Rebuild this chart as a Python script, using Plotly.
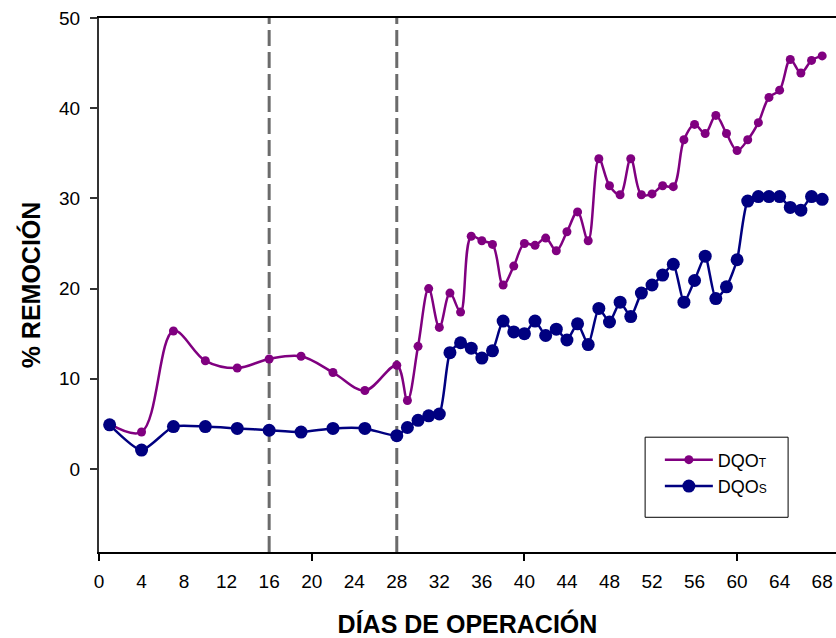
import plotly.graph_objects as go

# Days of operation
days = [1, 4, 7, 10, 13, 16, 19, 22, 25, 28,
        29, 30, 31, 32, 33, 34, 35, 36, 37, 38, 39, 40, 41, 42, 43, 44, 45, 46, 47, 48,
        49, 50, 51, 52, 53, 54, 55, 56, 57, 58, 59, 60, 61, 62, 63, 64, 65, 66, 67, 68]

# % removal DQO total
dqo_t = [5.0, 4.1, 15.3, 12.0, 11.2, 12.2, 12.5, 10.7, 8.7, 11.5,
         7.6, 13.6, 20.0, 15.7, 19.5, 17.4, 25.8, 25.3, 24.9, 20.4, 22.5, 25.0, 24.8, 25.6, 24.2, 26.3, 28.5, 25.3, 34.4, 31.4,
         30.4, 34.4, 30.4, 30.5, 31.4, 31.3, 36.5, 38.2, 37.2, 39.2, 37.2, 35.3, 36.5, 38.4, 41.2, 42.0, 45.4, 43.9, 45.3, 45.8]

# % removal DQO soluble
dqo_s = [4.9, 2.1, 4.7, 4.7, 4.5, 4.3, 4.1, 4.5, 4.5, 3.7,
         4.6, 5.4, 5.9, 6.1, 12.9, 14.0, 13.4, 12.3, 13.1, 16.4, 15.2, 15.0, 16.4, 14.8, 15.5, 14.3, 16.1, 13.8, 17.8, 16.3,
         18.5, 16.9, 19.5, 20.4, 21.5, 22.7, 18.5, 20.9, 23.6, 18.9, 20.2, 23.2, 29.7, 30.2, 30.2, 30.2, 29.0, 28.7, 30.2, 29.9]

x_ticks = list(range(0, 69, 4))
x_major = [0, 20, 40, 60]
y_ticks = [0, 10, 20, 30, 40, 50]
phase_limits = [16, 28]

FONT = "Liberation Sans, Arial, sans-serif"

fig = go.Figure()
fig.add_trace(go.Scatter(
    x=days, y=dqo_t, mode="lines+markers",
    name="DQO<span style='font-size:12px'>T</span>",
    line=dict(color="#800080", width=2.5, shape="spline", smoothing=1.0),
    marker=dict(color="#800080", size=9),
))
fig.add_trace(go.Scatter(
    x=days, y=dqo_s, mode="lines+markers",
    name="DQO<span style='font-size:12px'>S</span>",
    line=dict(color="#000080", width=2.5, shape="spline", smoothing=0.6),
    marker=dict(color="#000080", size=13),
))

for d in phase_limits:
    fig.add_shape(type="line", xref="x", yref="paper", x0=d, x1=d, y0=0, y1=1,
                  line=dict(color="#6b6b6b", width=3, dash="16px,6px"), layer="below")

# legend frame
fig.add_shape(type="rect", xref="paper", yref="paper",
              x0=0.741, x1=0.935, y0=0.065, y1=0.215,
              line=dict(color="black", width=1), fillcolor="white", layer="below")

fig.update_layout(
    width=836, height=638,
    margin=dict(l=99, r=0, t=18, b=86),
    paper_bgcolor="white", plot_bgcolor="white",
    font=dict(family=FONT, size=18, color="black"),
    showlegend=True,
    legend=dict(x=0.761, y=0.207, xanchor="left", yanchor="top",
                bgcolor="rgba(0,0,0,0)", borderwidth=0,
                font=dict(family=FONT, size=18), tracegroupgap=0,
                itemwidth=48),
    xaxis=dict(
        range=[0, 69.3], showgrid=False, zeroline=False,
        showline=True, linecolor="black", linewidth=1.5, mirror=True,
        tickmode="array", tickvals=x_ticks, ticktext=[str(v) for v in x_ticks],
        ticks="", ticklabelstandoff=11, ticklabeloverflow="allow",
        tickfont=dict(family=FONT, size=19),
        minor=dict(tickmode="array", tickvals=x_major, ticks="outside",
                   ticklen=7, tickwidth=1.5, tickcolor="black"),
        title=dict(text="<b>DÍAS DE OPERACIÓN</b>", standoff=29,
                   font=dict(family=FONT, size=25)),
    ),
    yaxis=dict(
        range=[-9.2, 50], showgrid=False, zeroline=False,
        showline=True, linecolor="#333333", linewidth=2,
        tickmode="array", tickvals=y_ticks,
        ticks="outside", ticklen=7, tickwidth=1.5, tickcolor="#333333",
        ticklabelstandoff=6, ticklabeloverflow="allow",
        tickfont=dict(family=FONT, size=19),
        title=dict(text="<b>% REMOCIÓN</b>", standoff=11,
                   font=dict(family=FONT, size=25)),
    ),
)

fig.write_html(
    "out.html",
    config={"displayModeBar": False},
    post_script="document.body.style.margin='0';"
                "document.documentElement.style.overflow='hidden';",
)
